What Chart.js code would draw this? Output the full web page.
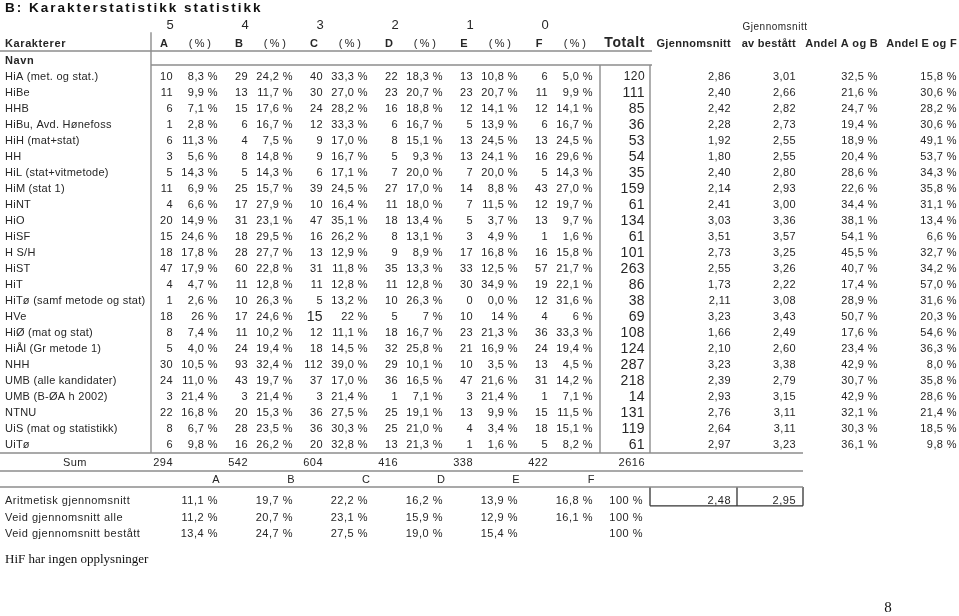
<!DOCTYPE html>
<html>
<head>
<meta charset="utf-8">
<script src="https://cdn.jsdelivr.net/npm/chart.js@4"></script>
<style>
    html, body { margin: 0; padding: 0; background: #fff; }
    canvas { display: block; }
</style>
</head>
<body>
<canvas id="karakterer" width="959" height="616"></canvas>
<script>
    var names = ['HiA (met. og stat.)', 'HiBe', 'HHB', 'HiBu, Avd. Hønefoss', 'HiH (mat+stat)', 'HH',
        'HiL (stat+vitmetode)', 'HiM (stat 1)', 'HiNT', 'HiO', 'HiSF', 'H S/H', 'HiST', 'HiT',
        'HiTø (samf metode og stat)', 'HVe', 'HiØ (mat og stat)', 'HiÅl (Gr metode 1)', 'NHH',
        'UMB (alle kandidater)', 'UMB (B-ØA h 2002)', 'NTNU', 'UiS (mat og statistikk)', 'UiTø'];
    var gradeLetters = ['A', 'B', 'C', 'D', 'E', 'F'];
    var gradeNumbers = [5, 4, 3, 2, 1, 0];

    var countA = [10, 11, 6, 1, 6, 3, 5, 11, 4, 20, 15, 18, 47, 4, 1, 18, 8, 5, 30, 24, 3, 22, 8, 6];
    var pctA = [8.3, 9.9, 7.1, 2.8, 11.3, 5.6, 14.3, 6.9, 6.6, 14.9, 24.6, 17.8, 17.9, 4.7, 2.6, 26, 7.4, 4.0, 10.5, 11.0, 21.4, 16.8, 6.7, 9.8];
    var countB = [29, 13, 15, 6, 4, 8, 5, 25, 17, 31, 18, 28, 60, 11, 10, 17, 11, 24, 93, 43, 3, 20, 28, 16];
    var pctB = [24.2, 11.7, 17.6, 16.7, 7.5, 14.8, 14.3, 15.7, 27.9, 23.1, 29.5, 27.7, 22.8, 12.8, 26.3, 24.6, 10.2, 19.4, 32.4, 19.7, 21.4, 15.3, 23.5, 26.2];
    var countC = [40, 30, 24, 12, 9, 9, 6, 39, 10, 47, 16, 13, 31, 11, 5, 15, 12, 18, 112, 37, 3, 36, 36, 20];
    var pctC = [33.3, 27.0, 28.2, 33.3, 17.0, 16.7, 17.1, 24.5, 16.4, 35.1, 26.2, 12.9, 11.8, 12.8, 13.2, 22, 11.1, 14.5, 39.0, 17.0, 21.4, 27.5, 30.3, 32.8];
    var countD = [22, 23, 16, 6, 8, 5, 7, 27, 11, 18, 8, 9, 35, 11, 10, 5, 18, 32, 29, 36, 1, 25, 25, 13];
    var pctD = [18.3, 20.7, 18.8, 16.7, 15.1, 9.3, 20.0, 17.0, 18.0, 13.4, 13.1, 8.9, 13.3, 12.8, 26.3, 7, 16.7, 25.8, 10.1, 16.5, 7.1, 19.1, 21.0, 21.3];
    var countE = [13, 23, 12, 5, 13, 13, 7, 14, 7, 5, 3, 17, 33, 30, 0, 10, 23, 21, 10, 47, 3, 13, 4, 1];
    var pctE = [10.8, 20.7, 14.1, 13.9, 24.5, 24.1, 20.0, 8.8, 11.5, 3.7, 4.9, 16.8, 12.5, 34.9, 0.0, 14, 21.3, 16.9, 3.5, 21.6, 21.4, 9.9, 3.4, 1.6];
    var countF = [6, 11, 12, 6, 13, 16, 5, 43, 12, 13, 1, 16, 57, 19, 12, 4, 36, 24, 13, 31, 1, 15, 18, 5];
    var pctF = [5.0, 9.9, 14.1, 16.7, 24.5, 29.6, 14.3, 27.0, 19.7, 9.7, 1.6, 15.8, 21.7, 22.1, 31.6, 6, 33.3, 19.4, 4.5, 14.2, 7.1, 11.5, 15.1, 8.2];

    var totals = [120, 111, 85, 36, 53, 54, 35, 159, 61, 134, 61, 101, 263, 86, 38, 69, 108, 124, 287, 218, 14, 131, 119, 61];
    var meanGrade = [2.86, 2.40, 2.42, 2.28, 1.92, 1.80, 2.40, 2.14, 2.41, 3.03, 3.51, 2.73, 2.55, 1.73, 2.11, 3.23, 1.66, 2.10, 3.23, 2.39, 2.93, 2.76, 2.64, 2.97];
    var meanPassed = [3.01, 2.66, 2.82, 2.73, 2.55, 2.55, 2.80, 2.93, 3.00, 3.36, 3.57, 3.25, 3.26, 2.22, 3.08, 3.43, 2.49, 2.60, 3.38, 2.79, 3.15, 3.11, 3.11, 3.23];
    var shareAB = [32.5, 21.6, 24.7, 19.4, 18.9, 20.4, 28.6, 22.6, 34.4, 38.1, 54.1, 45.5, 40.7, 17.4, 28.9, 50.7, 17.6, 23.4, 42.9, 30.7, 42.9, 32.1, 30.3, 36.1];
    var shareEF = [15.8, 30.6, 28.2, 30.6, 49.1, 53.7, 34.3, 35.8, 31.1, 13.4, 6.6, 32.7, 34.2, 57.0, 31.6, 20.3, 54.6, 36.3, 8.0, 35.8, 28.6, 21.4, 18.5, 9.8];

    var sums = [294, 542, 604, 416, 338, 422];
    var sumTotal = 2616;
    var arithMean = [11.1, 19.7, 22.2, 16.2, 13.9, 16.8];
    var arithMeanGrade = [2.48, 2.95];
    var weightedAll = [11.2, 20.7, 23.1, 15.9, 12.9, 16.1];
    var weightedPassed = [13.4, 24.7, 27.5, 19.0, 15.4, null];

    // cells printed without decimals / in larger type in the original
    var wholePctCells = { 'HVe': [0, 2, 3, 4, 5] };
    var bigCountCells = { 'HVe': [2] };
    var smallTotalRows = [0];

    // ---- layout (x in px units, y in row units) ----
    var colRight = {
        count: [173, 248, 323, 398, 473, 548],
        pct: [218, 293, 368, 443, 518, 593],
        total: 645, mean: 731, passed: 796, ab: 878, ef: 957
    };
    var rowY = {
        title: -4.31, gradeNum: -3.25, topMean: -3.12, head: -2.09, headLine: -1.625,
        navn: -1.03, navnLine: -0.75, vTop: -2.8, bodyEnd: 23.5, sum: 24.15,
        sumLine: 24.625, letters: 25.2, lettersLine: 25.625, arith: 26.5, boxBottom: 26.8,
        alle: 27.55, passed: 28.55, note: 30.15, page: 33.2
    };

    var INK = '#262626';
    var RULE = '#8d8d8d';
    var SANS = '"Liberation Sans", Arial, Helvetica, sans-serif';
    var SERIF = '"Liberation Serif", "Times New Roman", serif';

    function nb(v, d) {
        return v.toFixed(d).replace('.', ',');
    }

    var datasets = [];

    function addText(points, font, align, spacing, color) {
        datasets.push({
            type: 'scatter',
            data: points,
            cellFont: font,
            cellAlign: align,
            cellSpacing: spacing || '0.4px',
            cellColor: color || INK,
            pointRadius: 0,
            pointHoverRadius: 0,
            pointHitRadius: 0
        });
    }

    function addRule(x0, y0, x1, y1, color, width) {
        datasets.push({
            type: 'line',
            showLine: true,
            data: [{ x: x0, y: y0 }, { x: x1, y: y1 }],
            borderColor: color || RULE,
            borderWidth: width || 1.4,
            pointRadius: 0,
            fill: false,
            tension: 0
        });
    }

    // title + header
    addText([{ x: 5, y: rowY.title, t: 'B: Karakterstatistikk statistikk' }], 'bold 13.5px ' + SANS, 'left', '2px', '#111');
    addText(gradeNumbers.map(function(n, g) {
        return { x: colRight.count[g] - 3, y: rowY.gradeNum, t: String(n) };
    }), '13px ' + SANS, 'center', '0px');
    addText([{ x: 775, y: rowY.topMean, t: 'Gjennomsnitt' }], '10px ' + SANS, 'center', '0.5px');
    addText([
        { x: 5, y: rowY.head, t: 'Karakterer' },
        { x: 5, y: rowY.navn, t: 'Navn' }
    ], 'bold 11px ' + SANS, 'left', '0.6px');
    addText(gradeLetters.map(function(l, g) {
        return { x: colRight.count[g] - 9, y: rowY.head, t: l };
    }), 'bold 11px ' + SANS, 'center', '0px');
    addText(gradeLetters.map(function(l, g) {
        return { x: colRight.pct[g] - 17, y: rowY.head, t: '(%)' };
    }), '11px ' + SANS, 'center', '2.5px');
    addText([{ x: colRight.total, y: rowY.head, t: 'Totalt' }], 'bold 14px ' + SANS, 'right', '0.6px');
    addText([
        { x: colRight.mean, y: rowY.head, t: 'Gjennomsnitt' },
        { x: colRight.passed, y: rowY.head, t: 'av bestått' },
        { x: colRight.ab, y: rowY.head, t: 'Andel A og B' },
        { x: colRight.ef, y: rowY.head, t: 'Andel E og F' }
    ], 'bold 11px ' + SANS, 'right', '0.3px');

    // body
    addText(names.map(function(n, i) { return { x: 5, y: i, t: n }; }), '11px ' + SANS, 'left', '0.25px');

    var counts = [countA, countB, countC, countD, countE, countF];
    var pcts = [pctA, pctB, pctC, pctD, pctE, pctF];
    var normalCounts = [], bigCounts = [], pctCells = [];
    counts.forEach(function(col, g) {
        col.forEach(function(v, i) {
            var big = (bigCountCells[names[i]] || []).indexOf(g) >= 0;
            (big ? bigCounts : normalCounts).push({ x: colRight.count[g], y: i, t: String(v) });
        });
    });
    pcts.forEach(function(col, g) {
        col.forEach(function(v, i) {
            var whole = (wholePctCells[names[i]] || []).indexOf(g) >= 0;
            pctCells.push({ x: colRight.pct[g], y: i, t: nb(v, whole ? 0 : 1) + ' %' });
        });
    });
    addText(normalCounts, '11px ' + SANS, 'right', '0.4px');
    addText(bigCounts, '14px ' + SANS, 'right', '0.4px');
    addText(pctCells, '11px ' + SANS, 'right', '0.4px');

    var bigTotals = [], smallTotals = [];
    totals.forEach(function(v, i) {
        (smallTotalRows.indexOf(i) >= 0 ? smallTotals : bigTotals).push({ x: colRight.total, y: i, t: String(v) });
    });
    addText(bigTotals, '14px ' + SANS, 'right', '0.4px');
    addText(smallTotals, '12px ' + SANS, 'right', '0.4px');

    var meanCells = [];
    names.forEach(function(n, i) {
        meanCells.push({ x: colRight.mean, y: i, t: nb(meanGrade[i], 2) });
        meanCells.push({ x: colRight.passed, y: i, t: nb(meanPassed[i], 2) });
        meanCells.push({ x: colRight.ab, y: i, t: nb(shareAB[i], 1) + ' %' });
        meanCells.push({ x: colRight.ef, y: i, t: nb(shareEF[i], 1) + ' %' });
    });
    addText(meanCells, '11px ' + SANS, 'right', '0.4px');

    // sum row + letters row
    addText([{ x: 75, y: rowY.sum, t: 'Sum' }], '11px ' + SANS, 'center', '0.4px');
    addText(sums.map(function(v, g) {
        return { x: colRight.count[g], y: rowY.sum, t: String(v) };
    }).concat([{ x: colRight.total, y: rowY.sum, t: String(sumTotal) }]), '11px ' + SANS, 'right', '0.5px');
    addText(gradeLetters.map(function(l, g) {
        return { x: colRight.pct[g] - 2, y: rowY.letters, t: l };
    }), '11px ' + SANS, 'center', '0px');

    // average rows
    var avgLabels = [], avgCells = [];
    [['Aritmetisk gjennomsnitt', arithMean, rowY.arith],
     ['Veid gjennomsnitt alle', weightedAll, rowY.alle],
     ['Veid gjennomsnitt bestått', weightedPassed, rowY.passed]].forEach(function(r) {
        avgLabels.push({ x: 5, y: r[2], t: r[0] });
        r[1].forEach(function(v, g) {
            if (v !== null) avgCells.push({ x: colRight.pct[g], y: r[2], t: nb(v, 1) + ' %' });
        });
        avgCells.push({ x: colRight.total - 2, y: r[2], t: '100 %' });
    });
    avgCells.push({ x: colRight.mean, y: rowY.arith, t: nb(arithMeanGrade[0], 2) });
    avgCells.push({ x: colRight.passed, y: rowY.arith, t: nb(arithMeanGrade[1], 2) });
    addText(avgLabels, '11px ' + SANS, 'left', '0.5px');
    addText(avgCells, '11px ' + SANS, 'right', '0.5px');

    addText([{ x: 5, y: rowY.note, t: 'HiF har ingen opplysninger' }], '13px ' + SERIF, 'left', '0px', '#111');
    addText([{ x: 888, y: rowY.page, t: '8' }], '15px ' + SERIF, 'center', '0px', '#111');

    // rules
    addRule(0, rowY.headLine, 652, rowY.headLine);
    addRule(151, rowY.navnLine, 652, rowY.navnLine);
    addRule(151, rowY.vTop, 151, rowY.bodyEnd);
    addRule(600, rowY.navnLine, 600, rowY.bodyEnd);
    addRule(650, rowY.navnLine, 650, rowY.bodyEnd);
    addRule(0, rowY.bodyEnd, 803, rowY.bodyEnd);
    addRule(0, rowY.sumLine, 803, rowY.sumLine);
    addRule(0, rowY.lettersLine, 803, rowY.lettersLine);
    addRule(650, rowY.lettersLine, 650, rowY.boxBottom, '#333', 1.3);
    addRule(737, rowY.lettersLine, 737, rowY.boxBottom, '#333', 1.3);
    addRule(803, rowY.lettersLine, 803, rowY.boxBottom, '#333', 1.3);
    addRule(650, rowY.boxBottom, 803, rowY.boxBottom, '#333', 1.3);

    var tableText = {
        id: 'tableText',
        afterDatasetsDraw: function(chart) {
            var ctx = chart.ctx;
            chart.data.datasets.forEach(function(ds, di) {
                if (!ds.cellFont) return;
                var meta = chart.getDatasetMeta(di);
                ctx.save();
                ctx.font = ds.cellFont;
                ctx.fillStyle = ds.cellColor;
                ctx.textAlign = ds.cellAlign;
                ctx.textBaseline = 'middle';
                ctx.letterSpacing = ds.cellSpacing;
                meta.data.forEach(function(pt, i) {
                    ctx.fillText(ds.data[i].t, pt.x, pt.y);
                });
                ctx.restore();
            });
        }
    };

    new Chart(document.getElementById('karakterer').getContext('2d'), {
        type: 'scatter',
        data: { datasets: datasets },
        options: {
            responsive: false,
            animation: false,
            devicePixelRatio: 1,
            layout: { padding: 0 },
            plugins: { legend: { display: false }, tooltip: { enabled: false } },
            events: [],
            scales: {
                x: { type: 'linear', display: false, min: 0, max: 959 },
                y: { type: 'linear', display: false, reverse: true, min: -77 / 16, max: (616 - 77) / 16 }
            }
        },
        plugins: [tableText]
    });
</script>
</body>
</html>
